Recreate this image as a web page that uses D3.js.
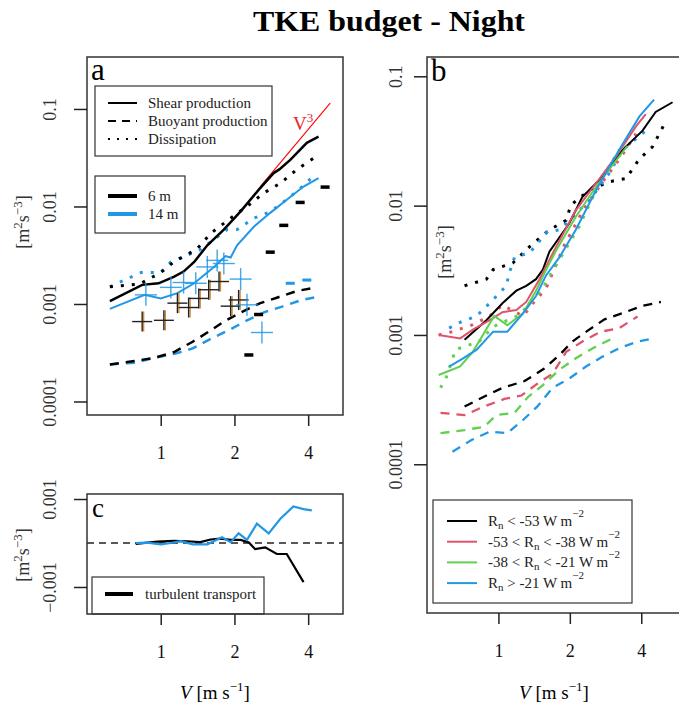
<!DOCTYPE html>
<html>
<head>
<meta charset="utf-8">
<script src="https://cdn.jsdelivr.net/npm/d3@7"></script>
<style>
  body { margin: 0; background: #fff; }
</style>
</head>
<body>
<div id="chart"></div>
<script>
// ---- panel a : 6 m (black) and 14 m (blue), [V, value]
var aShear6 = [[0.62,0.00107],[0.84,0.00157],[0.98,0.00163],[1.13,0.0019],[1.24,0.00215],[1.37,0.0027],[1.55,0.0040],[1.81,0.0058],[2.12,0.0089],[2.51,0.0148],[2.89,0.022],[3.05,0.024],[3.38,0.030],[3.95,0.045],[4.41,0.052]]
var aDiss6 = [[0.62,0.0015],[0.82,0.0016],[1.0,0.0021],[1.13,0.0027],[1.28,0.0032],[1.41,0.0037],[1.6,0.0053],[1.93,0.0076],[2.25,0.010],[2.63,0.0137],[3.08,0.0173],[3.6,0.024],[4.27,0.032]]
var aBuoy6 = [[0.62,0.00024],[0.78,0.00026],[0.94,0.00028],[1.13,0.00032],[1.35,0.00041],[1.57,0.00052],[1.81,0.00066],[2.15,0.00083],[2.55,0.00102],[2.98,0.00116],[3.6,0.00136],[4.27,0.00147]]
var aShear14 = [[0.62,0.00089],[0.86,0.00124],[1.0,0.00114],[1.17,0.00129],[1.37,0.00163],[1.65,0.0024],[1.84,0.0031],[1.93,0.0030],[2.05,0.0040],[2.4,0.0062],[2.8,0.0086],[3.27,0.0117],[3.83,0.016],[4.41,0.0195]]
var aDiss14 = [[0.62,0.0015],[0.83,0.0021],[1.0,0.0021],[1.1,0.0027],[1.45,0.0036],[1.87,0.0058],[2.05,0.0058],[2.4,0.0076],[2.8,0.0088],[3.08,0.0105],[3.6,0.0143],[4.2,0.0204]]
var aBuoy14 = [[0.62,0.00024],[0.78,0.00025],[0.94,0.00028],[1.15,0.00031],[1.35,0.00035],[1.6,0.00044],[1.9,0.00054],[2.25,0.00068],[2.67,0.00083],[3.13,0.00094],[3.77,0.0011],[4.41,0.00119]]
var aCross6 = [[0.84,0.00066],[1.03,0.00068],[1.17,0.00102],[1.30,0.00092],[1.43,0.00114],[1.57,0.0014],[1.73,0.0017],[1.93,0.00095],[2.08,0.0011]]
var aCross14 = [[0.87,0.00124],[1.10,0.00148],[1.24,0.00166],[1.39,0.00163],[1.55,0.0024],[1.70,0.0028],[1.81,0.0026],[2.12,0.0018],[2.25,0.00098],[2.59,0.00051]]
var aBar6 = [[2.29,0.0003],[2.51,0.00078],[2.8,0.0034],[3.18,0.0064],[3.71,0.011],[4.69,0.0158]]
var aBar14 = [[3.38,0.00163],[3.95,0.00176]]
var v3Line = [[2.55,0.016],[4.92,0.115]]

// ---- panel c : turbulent transport
var cTrans6 = [[0.79,-0.00002],[0.97,0.00003],[1.13,0.00005],[1.28,0.00004],[1.45,0.00002],[1.60,0.00008],[1.75,0.0001],[1.93,0.00007],[2.12,0.00007],[2.29,0.00001],[2.43,-0.00014],[2.67,-0.0001],[2.98,-0.00025],[3.27,-0.00025],[3.83,-0.00089]]
var cTrans14 = [[0.79,0.0],[0.88,0.00001],[1.0,-0.00003],[1.10,0.0],[1.21,0.00004],[1.35,-0.00003],[1.55,-0.00003],[1.78,0.00013],[1.93,0.00002],[2.08,0.00022],[2.25,0.00007],[2.47,0.00044],[2.76,0.00022],[3.08,0.00055],[3.48,0.00083],[3.83,0.00077],[4.14,0.00074]]

// ---- panel b : net radiation classes
var bShear1 = [[0.72,0.00092],[0.89,0.0013],[1.04,0.00176],[1.19,0.0022],[1.31,0.0024],[1.44,0.0027],[1.54,0.0032],[1.64,0.0044],[1.99,0.0073],[2.26,0.0117],[2.75,0.0167],[3.34,0.027],[4.05,0.038],[4.6,0.053],[5.42,0.063]]
var bShear2 = [[0.56,0.001],[0.69,0.00094],[0.78,0.0011],[0.92,0.0013],[1.04,0.0015],[1.19,0.00156],[1.31,0.0018],[1.49,0.0027],[1.75,0.0048],[2.12,0.0092],[2.58,0.0149],[3.13,0.024],[3.8,0.041],[4.18,0.051]]
var bShear3 = [[0.56,0.00049],[0.69,0.00057],[0.78,0.00074],[0.96,0.0014],[1.09,0.00119],[1.27,0.00147],[1.44,0.0022],[1.59,0.0032],[1.75,0.0045],[2.12,0.0082],[2.58,0.014],[3.23,0.024],[3.5,0.029]]
var bShear4 = [[0.62,0.00057],[0.71,0.00066],[0.81,0.00077],[0.95,0.00106],[1.09,0.00106],[1.27,0.00147],[1.44,0.002],[1.59,0.0029],[1.81,0.0040],[2.12,0.0065],[2.58,0.0132],[3.23,0.027],[3.93,0.049],[4.53,0.066]]
var bDiss1 = [[0.72,0.0024],[0.89,0.0027],[0.95,0.0032],[1.15,0.0036],[1.35,0.0048],[1.64,0.0065],[1.93,0.0077],[2.02,0.0101],[2.42,0.0132],[2.93,0.0153],[3.45,0.0162],[3.93,0.023],[4.46,0.0285],[5.08,0.045]]
var bDiss2 = [[0.56,0.001],[0.64,0.00106],[0.78,0.0012],[0.92,0.0014],[1.04,0.0017],[1.27,0.0014],[1.4,0.00176],[1.59,0.0023],[1.9,0.0050],[2.3,0.0095],[2.8,0.016],[3.3,0.024],[3.8,0.036]]
var bDiss3 = [[0.57,0.00039],[0.6,0.00046],[0.66,0.00077],[0.83,0.00089],[0.95,0.00116],[1.19,0.00139],[1.35,0.0017],[1.54,0.0023],[1.67,0.003],[2.19,0.0069],[2.66,0.0149],[3.23,0.027]]
var bDiss4 = [[0.62,0.00113],[0.70,0.00127],[0.81,0.0014],[0.93,0.0018],[1.08,0.0024],[1.11,0.003],[1.17,0.004],[1.35,0.0043],[1.61,0.0063],[1.81,0.0065],[2.42,0.011],[2.93,0.0178],[3.34,0.027],[4.18,0.038]]
var bBuoy1 = [[0.72,0.00028],[0.89,0.00034],[1.04,0.00039],[1.29,0.00044],[1.56,0.00055],[1.81,0.0007],[2.05,0.00089],[2.38,0.00108],[2.8,0.00132],[3.39,0.00149],[4.05,0.00168],[4.84,0.0018]]
var bBuoy2 = [[0.57,0.00025],[0.72,0.00024],[0.87,0.00028],[1.06,0.00032],[1.25,0.00034],[1.46,0.00042],[1.69,0.0005],[1.93,0.00074],[2.26,0.00089],[2.7,0.00106],[3.23,0.00113],[3.86,0.00139]]
var bBuoy3 = [[0.57,0.000174],[0.72,0.000184],[0.87,0.000195],[0.98,0.00024],[1.17,0.00025],[1.33,0.00033],[1.54,0.00041],[1.81,0.00054],[2.12,0.00066],[2.5,0.00079],[3.03,0.00094]]
var bBuoy4 = [[0.64,0.000125],[0.77,0.000154],[0.92,0.000179],[1.09,0.000174],[1.27,0.00022],[1.46,0.00028],[1.69,0.00039],[1.99,0.00046],[2.34,0.00057],[2.75,0.00068],[3.23,0.00079],[3.86,0.00089],[4.53,0.00094]]

var xTicks = [1, 2, 4]
var aYTicks = [0.0001, 0.001, 0.01, 0.1]
var cYTicks = [-0.001, 0.001]
var classNames = [
  [["R"], ["n", "sub"], [" < -53 W m"], ["\u22122", "sup"]],
  [["-53 < R"], ["n", "sub"], [" < -38 W m"], ["\u22122", "sup"]],
  [["-38 < R"], ["n", "sub"], [" < -21 W m"], ["\u22122", "sup"]],
  [["R"], ["n", "sub"], [" > -21 W m"], ["\u22122", "sup"]]
]

var BLUE = "#2297E6", RED = "#DF536B", GREEN = "#61D04F"
var classColors = ["#000", RED, GREEN, BLUE]
var DASH = "9,7", DOT = "3,8"
var SERIF = "'Liberation Serif', 'Times New Roman', Times, serif"

var svg = d3.select("#chart").append("svg").attr("width", 679).attr("height", 706)
  .attr("font-family", SERIF).style("display", "block")

svg.append("text").attr("x", 253).attr("y", 31).attr("font-size", 30).attr("font-weight", "bold")
  .attr("textLength", 272).attr("lengthAdjust", "spacingAndGlyphs").text("TKE budget - Night")

// scales
var xa = d3.scaleLog().domain([0.5, 5.55]).range([87, 343])
var ya = d3.scaleLog().domain([7.27e-5, 0.341]).range([415, 57])
var yc = d3.scaleLinear().domain([-0.001614, 0.001114]).range([614, 494])
var xb = d3.scaleLog().domain([0.5, 5.55]).range([427, 675])
var yb = d3.scaleLog().domain([7.08e-6, 0.141]).range([613, 57])

function drawLine(g, data, x, y, color, width, dash) {
  var line = d3.line().x(d => x(d[0])).y(d => y(d[1]))
  g.append("path").datum(data).attr("d", line).attr("fill", "none")
    .attr("stroke", color).attr("stroke-width", width)
    .attr("stroke-dasharray", dash || null)
}

function xAxis(x, yPos) {
  var g = svg.append("g").attr("transform", "translate(0," + yPos + ")")
    .call(d3.axisBottom(x).tickValues(xTicks).tickFormat(d3.format("d")).tickSize(11).tickPadding(20))
  g.attr("font-family", SERIF).attr("font-size", 18)
  g.select(".domain").remove()
  g.selectAll("line").attr("stroke", "#222").attr("stroke-width", 1.5)
  g.selectAll("text").attr("fill", "#111")
}

function yAxis(y, xPos, ticks, fmt, off) {
  var g = svg.append("g").attr("transform", "translate(" + xPos + ",0)")
    .call(d3.axisLeft(y).tickValues(ticks).tickFormat(fmt).tickSize(13))
  g.attr("font-family", SERIF).attr("font-size", 18)
  g.select(".domain").remove()
  g.selectAll("line").attr("stroke", "#222").attr("stroke-width", 1.5)
  g.selectAll("text").attr("fill", "#333")
    .attr("transform", "rotate(-90)").attr("x", 0).attr("y", off)
    .attr("dy", "0.35em").attr("text-anchor", "middle")
}

function box(x0, y0, x1, y1, w) {
  svg.append("rect").attr("x", x0).attr("y", y0).attr("width", x1 - x0).attr("height", y1 - y0)
    .attr("fill", "none").attr("stroke", "#333").attr("stroke-width", w || 1.5)
}

function unitLabel(x, y) {
  var t = svg.append("text").attr("transform", "translate(" + x + "," + y + ") rotate(-90)")
    .attr("text-anchor", "middle").attr("font-size", 18).attr("fill", "#333")
  t.append("tspan").text("[m")
  t.append("tspan").attr("font-size", 13).attr("dy", -7).text("2")
  t.append("tspan").attr("dy", 7).text("s")
  t.append("tspan").attr("font-size", 13).attr("dy", -7).text("\u22123")
  t.append("tspan").attr("dy", 7).text("]")
}

function vLabel(cx) {
  var t = svg.append("text").attr("x", cx).attr("y", 699).attr("text-anchor", "middle").attr("font-size", 19)
  t.append("tspan").attr("font-style", "italic").text("V")
  t.append("tspan").text(" [m s")
  t.append("tspan").attr("font-size", 13).attr("dy", -8).text("\u22121")
  t.append("tspan").attr("dy", 8).text("]")
}

var fmtSci = d => d >= 0.001 ? String(d) : "0.0001"

// ---------- panel a
var ga = svg.append("g")
drawLine(ga, v3Line, xa, ya, "#f00", 1.1)
drawLine(ga, aBuoy14, xa, ya, BLUE, 2.5, DASH)
drawLine(ga, aBuoy6, xa, ya, "#000", 2.5, DASH)
drawLine(ga, aDiss14, xa, ya, BLUE, 3, DOT)
drawLine(ga, aDiss6, xa, ya, "#000", 3, DOT)
drawLine(ga, aShear14, xa, ya, BLUE, 2)
drawLine(ga, aShear6, xa, ya, "#000", 2.5)

aCross6.forEach(function (d) {
  var cx = xa(d[0]), cy = ya(d[1])
  ga.append("line").attr("x1", cx + 1.5).attr("x2", cx + 1.5).attr("y1", cy - 10).attr("y2", cy + 10).attr("stroke", "#d98a2b").attr("stroke-width", 1.3)
  ga.append("line").attr("x1", cx - 10).attr("x2", cx + 10).attr("y1", cy).attr("y2", cy).attr("stroke", "#222").attr("stroke-width", 1.4)
  ga.append("line").attr("x1", cx).attr("x2", cx).attr("y1", cy - 10).attr("y2", cy + 10).attr("stroke", "#222").attr("stroke-width", 1.4)
})
aCross14.forEach(function (d) {
  var cx = xa(d[0]), cy = ya(d[1])
  ga.append("line").attr("x1", cx - 11).attr("x2", cx + 11).attr("y1", cy).attr("y2", cy).attr("stroke", BLUE).attr("stroke-width", 1.4).attr("opacity", 0.85)
  ga.append("line").attr("x1", cx).attr("x2", cx).attr("y1", cy - 11).attr("y2", cy + 11).attr("stroke", BLUE).attr("stroke-width", 1.4).attr("opacity", 0.85)
})
aBar6.forEach(function (d) {
  ga.append("line").attr("x1", xa(d[0]) - 4.5).attr("x2", xa(d[0]) + 4.5).attr("y1", ya(d[1])).attr("y2", ya(d[1]))
    .attr("stroke", "#000").attr("stroke-width", 3.5)
})
aBar14.forEach(function (d) {
  ga.append("line").attr("x1", xa(d[0]) - 4.5).attr("x2", xa(d[0]) + 4.5).attr("y1", ya(d[1])).attr("y2", ya(d[1]))
    .attr("stroke", BLUE).attr("stroke-width", 3)
})

var v3 = svg.append("text").attr("x", 293).attr("y", 130).attr("fill", "#e8242b").attr("font-size", 19)
v3.append("tspan").text("V")
v3.append("tspan").attr("font-size", 13).attr("dy", -8).text("3")

box(87, 57, 343, 415)
xAxis(xa, 415)
yAxis(ya, 87, aYTicks, fmtSci, -37)
unitLabel(29, 222)
svg.append("text").attr("x", 91).attr("y", 80).attr("font-size", 31).text("a")

// legend a (line types)
box(95, 86, 272, 156, 1.2)
var ltypes = [["Shear production", null], ["Buoyant production", DASH], ["Dissipation", DOT]]
ltypes.forEach(function (l, i) {
  var y = 103 + i * 18
  svg.append("line").attr("x1", 108).attr("x2", 137).attr("y1", y).attr("y2", y).attr("stroke", "#000")
    .attr("stroke-width", 2).attr("stroke-dasharray", l[1] == DASH ? "8,6" : l[1] == DOT ? "2,7" : null)
  svg.append("text").attr("x", 148).attr("y", y + 5).attr("font-size", 15).attr("fill", "#222").text(l[0])
})
// legend a (heights)
box(95, 176, 185, 233, 1.2)
var heights = [["6 m", "#000"], ["14 m", BLUE]]
heights.forEach(function (l, i) {
  var y = 196 + i * 18
  svg.append("line").attr("x1", 108).attr("x2", 137).attr("y1", y).attr("y2", y).attr("stroke", l[1]).attr("stroke-width", 4)
  svg.append("text").attr("x", 148).attr("y", y + 5).attr("font-size", 15).attr("fill", "#222").text(l[0])
})

// ---------- panel c
var gc = svg.append("g")
gc.append("line").attr("x1", 87).attr("x2", 343).attr("y1", yc(0)).attr("y2", yc(0))
  .attr("stroke", "#222").attr("stroke-width", 1.3).attr("stroke-dasharray", "7,5")
drawLine(gc, cTrans6, xa, yc, "#000", 2.2)
drawLine(gc, cTrans14, xa, yc, BLUE, 2.2)
box(87, 494, 343, 614)
xAxis(xa, 614)
yAxis(yc, 87, cYTicks, d3.format(".3f"), -37)
unitLabel(29, 555)
svg.append("text").attr("x", 92).attr("y", 517).attr("font-size", 27).text("c")
box(92, 577, 264, 614, 1.2)
svg.append("line").attr("x1", 105).attr("x2", 133).attr("y1", 594).attr("y2", 594).attr("stroke", "#000").attr("stroke-width", 4)
svg.append("text").attr("x", 145).attr("y", 599).attr("font-size", 15).attr("fill", "#222").text("turbulent transport")
vLabel(215)

// ---------- panel b
var gb = svg.append("g")
var bBuoy = [bBuoy1, bBuoy2, bBuoy3, bBuoy4]
var bDiss = [bDiss1, bDiss2, bDiss3, bDiss4]
var bShear = [bShear1, bShear2, bShear3, bShear4]
bBuoy.forEach((s, i) => drawLine(gb, s, xb, yb, classColors[i], 2.3, DASH))
bDiss.forEach((s, i) => drawLine(gb, s, xb, yb, classColors[i], 3, DOT))
bShear.forEach((s, i) => drawLine(gb, s, xb, yb, classColors[i], 2))

box(427, 57, 680, 613, 1.5)
xAxis(xb, 613)
yAxis(yb, 427, aYTicks, fmtSci, -31)
unitLabel(451, 252)
svg.append("text").attr("x", 431).attr("y", 81).attr("font-size", 31).text("b")

box(433, 500, 632, 603, 1.2)
classNames.forEach(function (parts, i) {
  var y = 521 + i * 20.7
  svg.append("line").attr("x1", 447).attr("x2", 477).attr("y1", y).attr("y2", y).attr("stroke", classColors[i]).attr("stroke-width", 2)
  var t = svg.append("text").attr("x", 488).attr("y", y + 5).attr("font-size", 15).attr("fill", "#222")
  parts.forEach(function (p, j) {
    var ts = t.append("tspan").text(p[0])
    if (p[1] == "sub") ts.attr("font-size", 11).attr("dy", 3)
    else if (p[1] == "sup") ts.attr("font-size", 11).attr("dy", -9)
    else if (j > 0) ts.attr("dy", -3)
  })
})
vLabel(554)
</script>
</body>
</html>
